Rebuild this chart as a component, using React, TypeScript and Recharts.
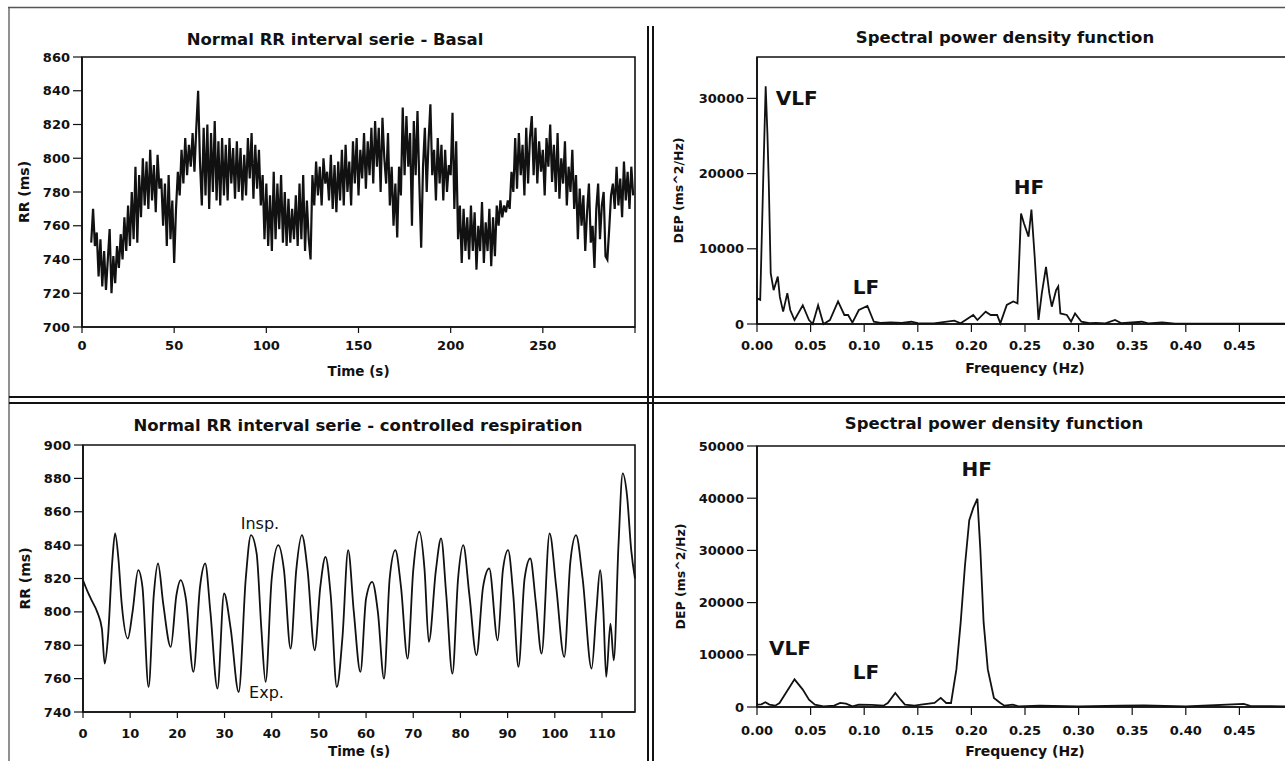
import { LineChart, Line, XAxis, YAxis, ReferenceArea, ReferenceDot } from "recharts";

// RR series at rest, one value per second starting at 5 s
const BASAL_START = 5;
const basalRR = [
  750, 770, 748, 756, 730, 752, 724, 745, 722, 740,
  758, 720, 742, 726, 748, 735, 755, 740, 765, 745,
  772, 748, 780, 752, 795, 750, 790, 765, 800, 772,
  798, 770, 805, 775, 796, 768, 802, 782, 788, 760,
  785, 748, 790, 752, 775, 738, 770, 792, 778, 805,
  785, 812, 790, 808, 795, 815, 792, 818, 840, 798,
  772, 818, 778, 820, 770, 815, 780, 822, 775, 810,
  772, 812, 778, 808, 775, 812, 785, 806, 776, 810,
  780, 806, 775, 802, 778, 812, 788, 815, 776, 808,
  782, 805, 772, 790, 752, 785, 748, 778, 745, 792,
  752, 785, 758, 790, 750, 780, 748, 776, 750, 770,
  752, 778, 748, 785, 752, 790, 745, 775, 752, 740,
  790, 772, 798, 778, 795, 772, 800, 785, 792, 775,
  802, 770, 796, 768, 798, 775, 805, 772, 808, 780,
  798, 772, 810, 785, 812, 778, 805, 788, 815, 782,
  810, 790, 818, 785, 822, 795, 818, 780, 824, 800,
  785, 815, 772, 795, 760, 785, 753, 795, 778, 830,
  790, 825, 795, 815, 760, 822, 790, 828, 785, 747,
  795, 818, 780, 810, 832, 790, 805, 775, 812, 785,
  808, 775, 805, 780, 796, 790, 827, 770, 810, 752,
  772, 738, 770, 745, 765, 740, 772, 745, 768, 734,
  760, 745, 774, 738, 762, 745, 770, 736, 765, 742,
  772, 760, 775, 765, 772, 768, 775, 770, 792, 780,
  812, 782, 815, 790, 808, 778, 818, 785, 812, 825,
  790, 818, 785, 810, 792, 805, 778, 812, 795, 820,
  786, 808, 780, 815, 776, 800, 785, 810, 772, 795,
  780, 805, 770, 790, 752, 782, 760, 778, 745, 768,
  785, 750, 760, 735, 770, 785, 752, 772, 780, 742,
  740, 758, 778, 785, 770, 795, 772, 788, 765, 798,
  775, 792, 770, 795, 778,
];

// RR series under controlled breathing
const respTime = [
  0, 1, 2, 3, 4, 4.6, 5.3, 6.2, 6.8, 7.5, 8.2, 9.5, 10.5, 11.7, 12.6, 13.9, 15, 15.9, 17, 18.6,
  19.8, 20.7, 21.8, 23.4, 24.8, 25.9, 27, 28.5, 29.9, 31.3, 33, 34.5, 35.6, 36.8, 37.8, 38.7, 40, 41.4, 42.6, 44,
  45.2, 46.4, 47.6, 49.1, 50.3, 51.4, 52.5, 53.8, 55, 56.2, 57.4, 58.8, 60, 61.3, 62.5, 63.8, 65, 66.2, 67.4, 68.8,
  70, 71.3, 72.4, 73.3, 74.8, 75.9, 77, 78.3, 79.5, 80.6, 81.9, 83.4, 84.8, 86.1, 87.9, 89, 90.1, 91.2, 92.3, 93.6,
  94.8, 96, 97.2, 98.9, 100.3, 102, 103.3, 104.5, 105.9, 107.8, 108.8, 109.6, 110.3, 110.9, 111.8, 112.5, 113.5, 114.4, 115.3, 116.2,
  117,
];
const respRR = [
  819, 812, 806, 800, 790, 769, 785, 830, 847, 832, 805, 784, 800, 825, 815, 755, 810, 829, 805, 779,
  810, 819, 808, 764, 815, 829, 800, 754, 811, 790, 752, 820, 846, 835, 790, 758, 820, 840, 825, 778,
  825, 846, 825, 777, 815, 833, 810, 755, 785, 837, 800, 764, 808, 818, 800, 760, 820, 837, 815, 772,
  825, 848, 825, 782, 825, 844, 810, 763, 820, 840, 810, 774, 815, 826, 783, 825, 837, 810, 767, 820,
  832, 805, 775, 847, 815, 773, 830, 846, 820, 766, 800, 825, 800, 761, 793, 771, 840, 883, 870, 837,
  820,
];

// spectral density, rest
const basalFreq = [
  0, 0.003, 0.0058, 0.0081, 0.0097, 0.011, 0.0128, 0.0155, 0.0194, 0.0213,
  0.0244, 0.0283, 0.031, 0.035, 0.0427, 0.0485, 0.052, 0.057, 0.062, 0.068,
  0.0756, 0.0815, 0.085, 0.089, 0.095, 0.103, 0.109, 0.115, 0.125, 0.135,
  0.144, 0.15, 0.165, 0.184, 0.19, 0.2017, 0.2056, 0.2133, 0.218, 0.224,
  0.227, 0.233, 0.239, 0.243, 0.2463, 0.249, 0.2533, 0.256, 0.259, 0.2626,
  0.2657, 0.2696, 0.2727, 0.275, 0.279, 0.281, 0.283, 0.289, 0.293, 0.2967,
  0.3026, 0.31, 0.316, 0.325, 0.334, 0.34, 0.359, 0.365, 0.378, 0.39,
  0.42, 0.46, 0.5,
];
const basalDep = [
  3400, 3200, 19200, 31600, 25400, 18700, 6750, 4500, 6300, 3600,
  1640, 4100, 1860, 530, 2500, 530, 0, 2500, 0, 530,
  3000, 1200, 1200, 180, 1860, 2400, 300, 150, 200, 150,
  300, 100, 80, 440, 100, 1200, 530, 1640, 1200, 1200,
  90, 2530, 3000, 2750, 14700, 13400, 11600, 15200, 9000, 530,
  4100, 7600, 4100, 2300, 4500, 5000, 1400, 1200, 300, 1400,
  300, 100, 150, 80, 530, 100, 300, 80, 220, 60,
  50, 40, 40,
];

// spectral density, controlled breathing
const respFreq = [
  0, 0.004, 0.0078, 0.0116, 0.017, 0.021, 0.035, 0.0427, 0.0485, 0.054,
  0.062, 0.072, 0.0776, 0.083, 0.089, 0.095, 0.107, 0.118, 0.122, 0.129,
  0.134, 0.138, 0.147, 0.153, 0.1656, 0.1714, 0.1765, 0.181, 0.186, 0.19,
  0.194, 0.198, 0.2017, 0.2056, 0.2083, 0.2114, 0.2153, 0.221, 0.227, 0.2308,
  0.2386, 0.244, 0.2638, 0.3, 0.339, 0.361, 0.4, 0.454, 0.46, 0.5,
];
const respDep = [
  450, 500, 900, 450, 260, 770, 5300, 3340, 1400, 450,
  130, 260, 770, 640, 130, 450, 390, 260, 770, 2700,
  1400, 450, 260, 450, 770, 1740, 770, 770, 7200, 16200,
  27100, 35800, 38100, 39900, 30300, 16200, 7200, 1740, 770, 260,
  450, 130, 260, 100, 260, 320, 100, 580, 200, 100,
];

const basalTicksX = [0, 50, 100, 150, 200, 250, 300];
const basalTicksY = [700, 720, 740, 760, 780, 800, 820, 840, 860];
const respTicksX = [0, 10, 20, 30, 40, 50, 60, 70, 80, 90, 100, 110];
const respTicksY = [740, 760, 780, 800, 820, 840, 860, 880, 900];
const freqTicks = [0, 0.05, 0.1, 0.15, 0.2, 0.25, 0.3, 0.35, 0.4, 0.45];
const depTicksTop = [0, 10000, 20000, 30000];
const depTicksBottom = [0, 10000, 20000, 30000, 40000, 50000];

const FONT = "'DejaVu Sans', 'Liberation Sans', sans-serif";
const INK = "#111";
const tickStyle = { fontFamily: FONT, fontWeight: 700, fontSize: 13, fill: INK };
const axisLine = { stroke: INK, strokeWidth: 1.6 };
const tickLine = { stroke: INK, strokeWidth: 1.2 };
const axisTitle = { fontFamily: FONT, fontWeight: 700, fill: INK };
const peakLabel = { fontFamily: FONT, fontWeight: 700, fontSize: 20, fill: INK };

const basalData = basalRR.map((rr, i) => ({ t: BASAL_START + i, rr }));
const respData = respTime.map((t, i) => ({ t, rr: respRR[i] }));
const basalSpec = basalFreq.map((f, i) => ({ f, dep: basalDep[i] }));
const respSpec = respFreq.map((f, i) => ({ f, dep: respDep[i] }));

const yTitle = (value: string, offset: number, size: number) => ({
  value, angle: -90, position: "insideLeft" as const, offset,
  ...axisTitle, fontSize: size, style: { textAnchor: "middle" as const },
});
const xTitle = (value: string, size: number) => ({
  value, position: "insideBottom" as const, offset: 1, ...axisTitle, fontSize: size,
});

function Box({ left, top, children }: { left: number; top: number; children: any }) {
  return <div style={{ position: "absolute", left, top }}>{children}</div>;
}

export default function App() {
  return (
    <div style={{ position: "absolute", left: 0, top: 0, width: 1285, height: 761, overflow: "hidden", background: "#fff", fontFamily: FONT }}>
      <svg width={1285} height={761} style={{ position: "absolute", left: 0, top: 0 }}>
        <line x1={8} y1={7.5} x2={1285} y2={7.5} stroke="#555" strokeWidth={1.3} />
        <line x1={9} y1={7} x2={9} y2={761} stroke="#555" strokeWidth={1.3} />
        <line x1={648} y1={26} x2={648} y2={761} stroke={INK} strokeWidth={2} />
        <line x1={653} y1={26} x2={653} y2={761} stroke={INK} strokeWidth={2} />
        <line x1={9} y1={397} x2={1285} y2={397} stroke={INK} strokeWidth={2} />
        <line x1={9} y1={403} x2={1285} y2={403} stroke={INK} strokeWidth={2} />
        <text x={335} y={45} textAnchor="middle" fontFamily={FONT} fontWeight={700} fontSize={16.5} fill={INK}>
          Normal RR interval serie - Basal
        </text>
        <text x={1005} y={43} textAnchor="middle" fontFamily={FONT} fontWeight={700} fontSize={16.5} fill={INK}>
          Spectral power density function
        </text>
        <text x={358} y={431} textAnchor="middle" fontFamily={FONT} fontWeight={700} fontSize={16.5} fill={INK}>
          Normal RR interval serie - controlled respiration
        </text>
        <text x={994} y={429} textAnchor="middle" fontFamily={FONT} fontWeight={700} fontSize={16.5} fill={INK}>
          Spectral power density function
        </text>
      </svg>

      <Box left={0} top={0}>
        <LineChart width={660} height={397} data={basalData} margin={{ top: 57, right: 25, bottom: 20, left: 0 }}>
          <XAxis dataKey="t" type="number" domain={[0, 300]} ticks={basalTicksX} interval={0}
            tickFormatter={(v: number) => (v === 300 ? "" : String(v))}
            height={50} tick={tickStyle} tickSize={6} tickMargin={8} axisLine={axisLine} tickLine={tickLine}
            label={xTitle("Time (s)", 13.5)} />
          <YAxis type="number" domain={[700, 860]} ticks={basalTicksY} interval={0} width={82}
            tick={tickStyle} tickSize={9} tickMargin={3} axisLine={axisLine} tickLine={tickLine}
            label={yTitle("RR (ms)", 24, 14)} />
          <ReferenceArea x1={0} x2={300} y1={700} y2={860} fill="none" stroke={INK} strokeWidth={1.6} />
          <Line dataKey="rr" type="linear" stroke={INK} strokeWidth={2.2} dot={false} isAnimationActive={false} />
        </LineChart>
      </Box>

      <Box left={652} top={0}>
        <LineChart width={641} height={397} data={basalSpec} margin={{ top: 57, right: 0, bottom: 23, left: 0 }}>
          <XAxis dataKey="f" type="number" domain={[0, 0.5]} ticks={freqTicks} interval={0}
            tickFormatter={(v: number) => v.toFixed(2)}
            height={50} tick={tickStyle} tickSize={8} tickMargin={9} axisLine={axisLine} tickLine={tickLine}
            label={xTitle("Frequency (Hz)", 14)} />
          <YAxis type="number" domain={[0, 35500]} ticks={depTicksTop} interval={0} width={105}
            tick={tickStyle} tickSize={10} tickMargin={3} axisLine={axisLine} tickLine={tickLine}
            label={yTitle("DEP (ms^2/Hz)", 27, 12.5)} />
          <ReferenceArea x1={0} x2={0.5} y1={0} y2={35500} fill="none" stroke={INK} strokeWidth={1.6} />
          <Line dataKey="dep" type="linear" stroke={INK} strokeWidth={1.8} dot={false} isAnimationActive={false} />
          <ReferenceDot x={0.037} y={30000} r={0} fill="none" stroke="none" label={{ value: "VLF", position: "center", ...peakLabel }} />
          <ReferenceDot x={0.1017} y={4930} r={0} fill="none" stroke="none" label={{ value: "LF", position: "center", ...peakLabel }} />
          <ReferenceDot x={0.2537} y={18240} r={0} fill="none" stroke="none" label={{ value: "HF", position: "center", ...peakLabel }} />
        </LineChart>
      </Box>

      <Box left={0} top={405}>
        <LineChart width={660} height={356} data={respData} margin={{ top: 40, right: 25, bottom: 4, left: 0 }}>
          <XAxis dataKey="t" type="number" domain={[0, 117]} ticks={respTicksX} interval={0}
            height={45} tick={tickStyle} tickSize={6} tickMargin={11} axisLine={axisLine} tickLine={tickLine}
            label={xTitle("Time (s)", 13.5)} />
          <YAxis type="number" domain={[740, 900]} ticks={respTicksY} interval={0} width={83}
            tick={tickStyle} tickSize={9} tickMargin={3} axisLine={axisLine} tickLine={tickLine}
            label={yTitle("RR (ms)", 25, 14)} />
          <ReferenceArea x1={0} x2={117} y1={740} y2={900} fill="none" stroke={INK} strokeWidth={1.6} />
          <Line dataKey="rr" type="monotone" stroke={INK} strokeWidth={1.8} dot={false} isAnimationActive={false} />
          <ReferenceDot x={37.5} y={853} r={0} fill="none" stroke="none"
            label={{ value: "Insp.", position: "center", fontFamily: FONT, fontSize: 16, fill: INK }} />
          <ReferenceDot x={38.9} y={751.5} r={0} fill="none" stroke="none"
            label={{ value: "Exp.", position: "center", fontFamily: FONT, fontSize: 16, fill: INK }} />
        </LineChart>
      </Box>

      <Box left={652} top={405}>
        <LineChart width={641} height={356} data={respSpec} margin={{ top: 41, right: 0, bottom: 4, left: 0 }}>
          <XAxis dataKey="f" type="number" domain={[0, 0.5]} ticks={freqTicks} interval={0}
            tickFormatter={(v: number) => v.toFixed(2)}
            height={50} tick={tickStyle} tickSize={8} tickMargin={11} axisLine={axisLine} tickLine={tickLine}
            label={xTitle("Frequency (Hz)", 14)} />
          <YAxis type="number" domain={[0, 50000]} ticks={depTicksBottom} interval={0} width={105}
            tick={tickStyle} tickSize={10} tickMargin={3} axisLine={axisLine} tickLine={tickLine}
            label={yTitle("DEP (ms^2/Hz)", 29, 12.5)} />
          <ReferenceArea x1={0} x2={0.5} y1={0} y2={50000} fill="none" stroke={INK} strokeWidth={1.6} />
          <Line dataKey="dep" type="linear" stroke={INK} strokeWidth={1.8} dot={false} isAnimationActive={false} />
          <ReferenceDot x={0.0308} y={11280} r={0} fill="none" stroke="none" label={{ value: "VLF", position: "center", ...peakLabel }} />
          <ReferenceDot x={0.1017} y={6690} r={0} fill="none" stroke="none" label={{ value: "LF", position: "center", ...peakLabel }} />
          <ReferenceDot x={0.205} y={45700} r={0} fill="none" stroke="none" label={{ value: "HF", position: "center", ...peakLabel }} />
        </LineChart>
      </Box>
    </div>
  );
}
